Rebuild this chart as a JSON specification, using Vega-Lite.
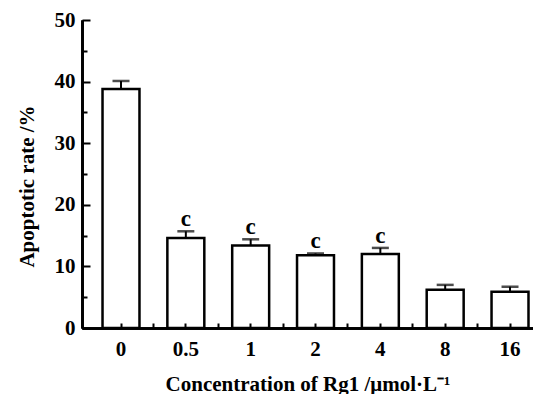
{
  "$schema": "https://vega.github.io/schema/vega-lite/v6.json",
  "autosize": "none",
  "width": 451,
  "height": 308,
  "padding": {"left": 82, "top": 20, "right": 0, "bottom": 66},
  "background": "white",
  "data": {
    "values": [
      {"conc": "0", "rate": 38.8, "upper": 40.1, "sig": ""},
      {"conc": "0.5", "rate": 14.6, "upper": 15.7, "sig": "c"},
      {"conc": "1", "rate": 13.4, "upper": 14.4, "sig": "c"},
      {"conc": "2", "rate": 11.8, "upper": 12.1, "sig": "c"},
      {"conc": "4", "rate": 12.0, "upper": 13.0, "sig": "c"},
      {"conc": "8", "rate": 6.2, "upper": 7.0, "sig": ""},
      {"conc": "16", "rate": 5.9, "upper": 6.7, "sig": ""}
    ]
  },
  "layer": [
    {
      "mark": {"type": "bar", "filled": false, "stroke": "black", "strokeWidth": 2.5},
      "encoding": {
        "x": {
          "field": "conc", "type": "ordinal", "sort": null,
          "scale": {"paddingInner": 0.43, "paddingOuter": 0.193, "align": 0.82},
          "axis": {
            "orient": "bottom",
            "title": "Concentration of Rg1 /μmol·L⁻¹",
            "labelAngle": 0,
            "tickSize": 0,
            "labelPadding": 10,
            "domainWidth": 2.5,
            "labelColor": "black",
            "labelFont": "Liberation Serif",
            "labelFontWeight": "bold",
            "labelFontSize": 21,
            "titleColor": "black",
            "titleFont": "Liberation Serif",
            "titleFontWeight": "bold",
            "titleFontSize": 21,
            "titleY": 62,
            "titleBaseline": "alphabetic"
          }
        },
        "y": {
          "field": "rate", "type": "quantitative",
          "scale": {"domain": [0, 50], "nice": false},
          "axis": {
            "orient": "left",
            "values": [0, 10, 20, 30, 40, 50],
            "title": "Apoptotic rate /%",
            "tickSize": 0,
            "labelPadding": 7,
            "domainWidth": 2.5,
            "labelColor": "black",
            "labelFont": "Liberation Serif",
            "labelFontWeight": "bold",
            "labelFontSize": 21,
            "titleColor": "black",
            "titleFont": "Liberation Serif",
            "titleFontWeight": "bold",
            "titleFontSize": 21,
            "titleX": -49,
            "titleY": 166,
            "titleBaseline": "alphabetic",
            "titleAngle": -90
          }
        }
      }
    },
    {
      "mark": {"type": "rule", "color": "black", "strokeWidth": 2},
      "encoding": {
        "x": {
          "field": "conc", "type": "ordinal", "sort": null,
          "axis": {
            "orient": "top",
            "offset": -308,
            "title": null,
            "labelExpr": "''",
            "labelAngle": 0,
            "tickColor": "black",
            "tickSize": 5,
            "tickWidth": 2
          }
        },
        "y": {
          "field": "rate", "type": "quantitative",
          "axis": {
            "orient": "right",
            "offset": -451,
            "title": null,
            "labelExpr": "''",
            "tickColor": "black",
            "values": [0, 10, 20, 30, 40, 50],
            "tickSize": 8,
            "tickWidth": 2
          }
        },
        "y2": {"field": "upper"}
      }
    },
    {
      "mark": {"type": "tick", "color": "black", "size": 17, "thickness": 2.5},
      "encoding": {
        "x": {
          "field": "conc", "type": "ordinal", "sort": null,
          "axis": {
            "orient": "top",
            "offset": -308,
            "title": null,
            "labelExpr": "''",
            "labelAngle": 0,
            "tickColor": "black",
            "bandPosition": 1.376,
            "tickSize": 5,
            "tickWidth": 2
          }
        },
        "y": {
          "field": "upper", "type": "quantitative",
          "axis": {
            "orient": "right",
            "offset": -451,
            "title": null,
            "labelExpr": "''",
            "tickColor": "black",
            "values": [5, 15, 25, 35, 45],
            "tickSize": 5,
            "tickWidth": 2
          }
        }
      }
    },
    {
      "mark": {"type": "text", "font": "Liberation Serif", "fontWeight": "bold", "fontSize": 23, "baseline": "alphabetic", "dy": -5, "color": "black"},
      "encoding": {
        "x": {"field": "conc", "type": "ordinal", "sort": null, "axis": null},
        "y": {"field": "upper", "type": "quantitative", "axis": null},
        "text": {"field": "sig"}
      }
    }
  ],
  "resolve": {"axis": {"x": "independent", "y": "independent"}},
  "config": {
    "view": {"stroke": null},
    "axis": {
      "grid": false,
      "domainColor": "black",
      "domainWidth": 2.5
    }
  }
}
